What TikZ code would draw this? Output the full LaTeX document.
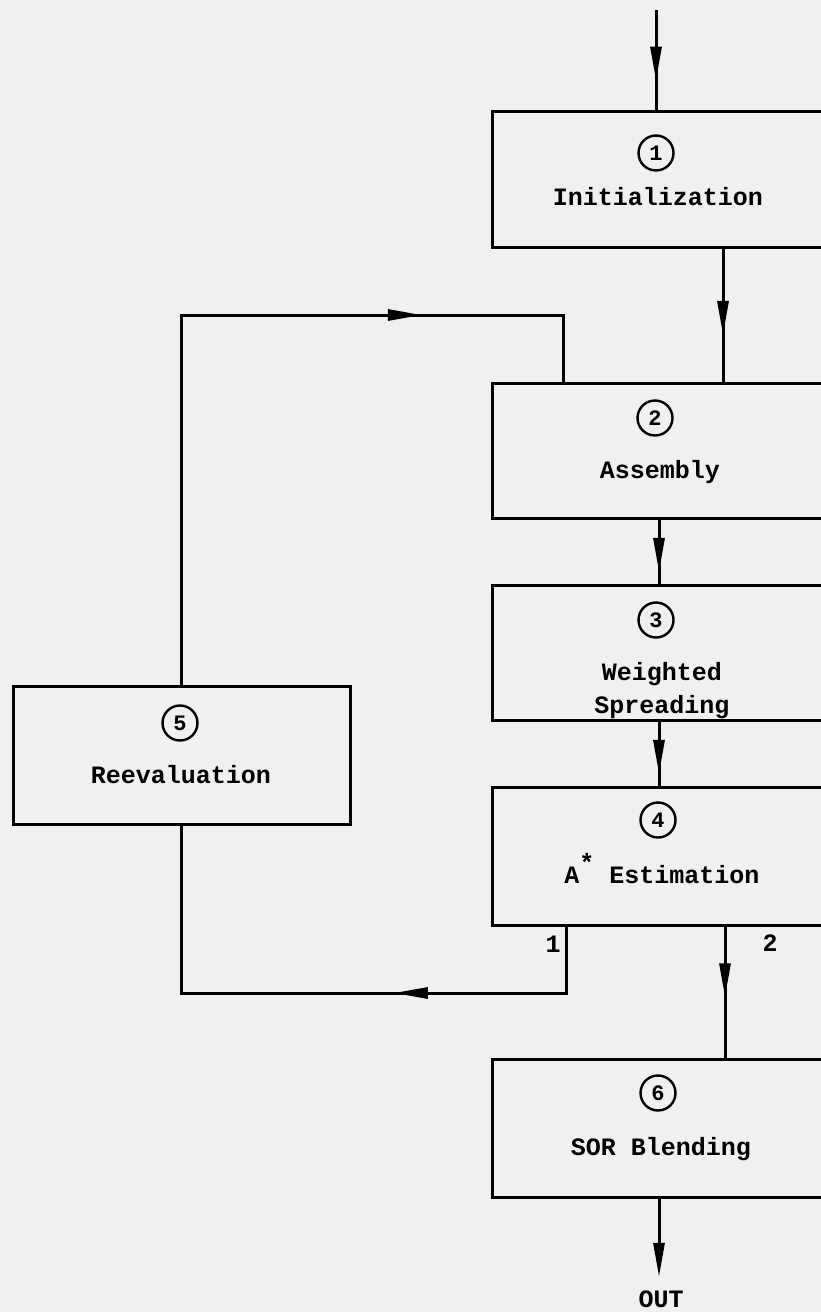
\documentclass[tikz,border=0pt]{standalone}
\usepackage{fontspec}
\setmainfont{Liberation Mono}
\usetikzlibrary{arrows.meta,decorations.markings}

\begin{document}
\begin{tikzpicture}[x=1pt,y=-1pt,line width=3pt,
		stage/.style={draw,minimum width=334pt,inner sep=0pt},
		num/.style={draw,circle,line width=2.4pt,minimum size=35pt,inner sep=0pt,font=\bfseries\fontsize{22}{22}\selectfont},
		lbl/.style={anchor=base,inner sep=0pt,align=center,font=\bfseries\fontsize{25}{33}\selectfont},
		flow/.style={postaction={decorate},decoration={markings,mark=at position #1 with {\arrow{Triangle[length=34pt,width=11pt]}}}}]
				\fill[black!6] (0,0) rectangle (821,1312);
				\useasboundingbox (0,0) rectangle (821,1312);
				% stages
				\node[stage,minimum height=136pt] (init) at (659,179) {};
				\node[stage,minimum height=135pt] (asm) at (659,450.5) {};
				\node[stage,minimum height=135pt] (spread) at (659,652.5) {};
				\node[stage,minimum height=138pt] (est) at (659,856) {};
				\node[stage,minimum height=138pt,minimum width=337pt] (reeval) at (181.5,755) {};
				\node[stage,minimum height=138pt] (sor) at (659,1128) {};
				% numbers and names
				\node[num] (n1) at (656,153) {1};
				\node[lbl] (t1) at (658,205) {Initialization};
				\node[num] (n2) at (655,418) {2};
				\node[lbl] (t2) at (660,478) {Assembly};
				\node[num] (n3) at (656,620) {3};
				\node[lbl] (t3) at (662,713) {Weighted\\Spreading};
				\node[num] (n4) at (658,820) {4};
				\node[lbl] (t4) at (662,883) {A\raisebox{.45em}{*} Estimation};
				\node[num] (n5) at (180,723) {5};
				\node[lbl] (t5) at (181,783) {Reevaluation};
				\node[num] (n6) at (658,1093) {6};
				\node[lbl] (t6) at (661,1155) {SOR Blending};
				\node[lbl] (out) at (661,1307) {OUT};
				\node[lbl] (lab1) at (553,952) {1};
				\node[lbl] (lab2) at (770,951) {2};
				\coordinate (in) at (656,10);
				\coordinate (loopup) at (563,315);
				\coordinate (loopdown) at (566,993);
				% flow
				\draw[flow=.71] (in) -- (in |- init.north);
				\draw[flow=.65] ([xshift=64pt]init.south) -- ([xshift=64pt]asm.north);
				\draw[flow=.82] (asm) -- (spread);
				\draw[flow=.82] (spread.south) -- (spread.south |- est.north);
				\draw[flow=.54] ([xshift=66pt]est.south) -- ([xshift=66pt]sor.north);
				\draw[-{Triangle[length=34pt,width=11pt]},shorten >=12pt] (sor.south) -- (sor.south |- out.north);
				\draw[flow=.746] (reeval.north) |- (loopup) -- (loopup |- asm.north);
				\draw[flow=.386] (loopdown |- est.south) -- (loopdown) -| (reeval.south);
\end{tikzpicture}
\end{document}
